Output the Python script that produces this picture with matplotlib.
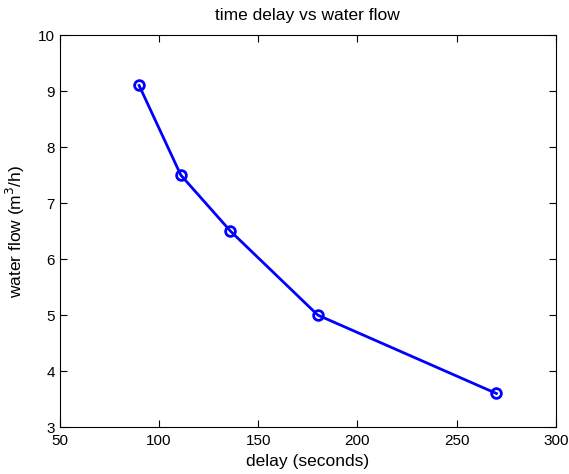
import matplotlib
matplotlib.use("Agg")
import matplotlib.pyplot as plt

# measured delay vs flow
delay = [90, 111, 136, 180, 270]
flow = [9.1, 7.5, 6.5, 5.0, 3.6]
x_ticks = [50, 100, 150, 200, 250, 300]
y_ticks = [3, 4, 5, 6, 7, 8, 9, 10]

plt.rcParams['font.family'] = ['Liberation Sans', 'DejaVu Sans']

fig = plt.figure(figsize=(5.69, 4.74), dpi=100)
ax = fig.add_axes([0.105, 0.099, 0.872, 0.827])
ax.plot(delay, flow, color='#0000ff', linewidth=2, marker='o', markersize=7,
        markerfacecolor='none', markeredgewidth=2)

ax.set_xlim(50, 300)
ax.set_ylim(3, 10)
ax.set_xticks(x_ticks)
ax.set_yticks(y_ticks)
ax.tick_params(direction='in', top=True, right=True, labelsize=11, length=5, width=0.8)
ax.tick_params(axis='x', pad=5)
for s in ax.spines.values():
    s.set_linewidth(0.8)

ax.set_title('time delay vs water flow', fontsize=12.5, pad=11)
ax.set_xlabel('delay (seconds)', fontsize=12.5, labelpad=4)
ax.set_ylabel('water flow (m$^3$/h)', fontsize=12.5, labelpad=8)

fig.savefig('out.png', dpi=100)
